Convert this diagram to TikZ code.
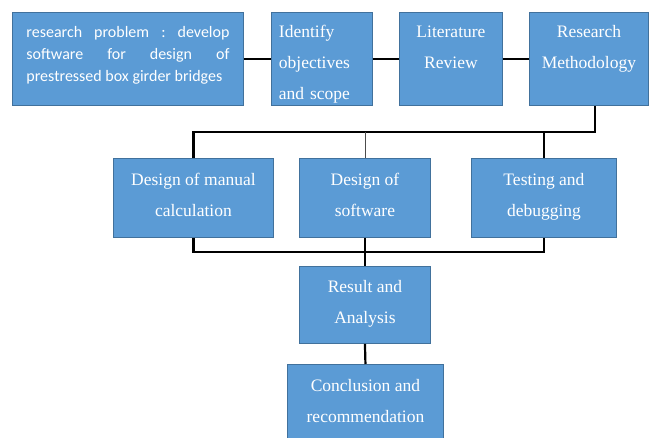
\documentclass[tikz,border=0pt]{standalone}
\usepackage{fontspec}
\usetikzlibrary{calc}
\setmainfont{Liberation Serif}
\newfontfamily\carl{Carlito}
\begin{document}
\begin{tikzpicture}[x=1pt,y=-1pt,
  box/.style={draw=boxborder, line width=0.9pt, fill=boxfill, text=white,
    anchor=north west, inner sep=0pt, align=center, font=\fontsize{17.5}{31}\selectfont},
  conn/.style={line width=2.2pt, black},
  thinconn/.style={line width=0.8pt, black!70}]
\definecolor{boxfill}{HTML}{5B9BD5}
\definecolor{boxborder}{HTML}{41719C}
\useasboundingbox (0,0) rectangle (649,438);
\fill[white] (0,0) rectangle (649,438);
% top row
\node[box, minimum width=231pt, minimum height=93pt, text width=203pt, align=justify,
  font=\carl\fontsize{16}{22}\selectfont] (b1) at (12,12)
  {research\hfill problem\hfill :\hfill develop\\
   software\hfill for\hfill design\hfill of\\
   prestressed box girder bridges\\[-12pt]\mbox{}};
\node[box, minimum width=101pt, minimum height=93pt, text width=86pt, align=left] (b2) at (271,12)
  {Identify\\objectives\\and scope\\[-37pt]\mbox{}};
\node[box, minimum width=103pt, minimum height=93pt] (b3) at (399,12)
  {Literature\\Review\\[-7pt]\mbox{}};
\node[box, minimum width=119pt, minimum height=93pt] (b4) at (529,12)
  {Research\\Methodology\\[-7pt]\mbox{}};
% middle row
\node[box, minimum width=160pt, minimum height=79pt] (m1) at (113,158)
  {Design of manual\\calculation\\[-24pt]\mbox{}};
\node[box, minimum width=131pt, minimum height=79pt] (m2) at (299,158)
  {Design of\\software\\[-24pt]\mbox{}};
\node[box, minimum width=145pt, minimum height=79pt] (m3) at (471,158)
  {Testing and\\debugging\\[-24pt]\mbox{}};
% bottom
\node[box, minimum width=131pt, minimum height=77pt] (r) at (299,266)
  {Result and\\Analysis\\[-24pt]\mbox{}};
\node[box, minimum width=156pt, minimum height=74pt] (c) at (287,364)
  {Conclusion and\\recommendation};
% connectors
\draw[conn] (b1) -- (b2);
\draw[conn] (b2) -- (b3);
\draw[conn] (b3) -- (b4);
\coordinate (busA) at ($(b4.south)+(6,26)$);
\coordinate (busA0) at ($(b4.south)+(6,0)$);
\draw[conn] (busA0) -- (busA) -| (m1.north);
\draw[conn] (m3.north) -- (m3.north |- busA);
\draw[thinconn] (m2.north) -- (m2.north |- busA);
\coordinate (busB) at ($(m2.south)+(0,14)$);
\draw[conn] (m1.south) |- (busB) -| (m3.south);
\draw[conn] (m2.south) -- (r.north);
\draw[conn] (r.south) -- (c.north);
\end{tikzpicture}
\end{document}
